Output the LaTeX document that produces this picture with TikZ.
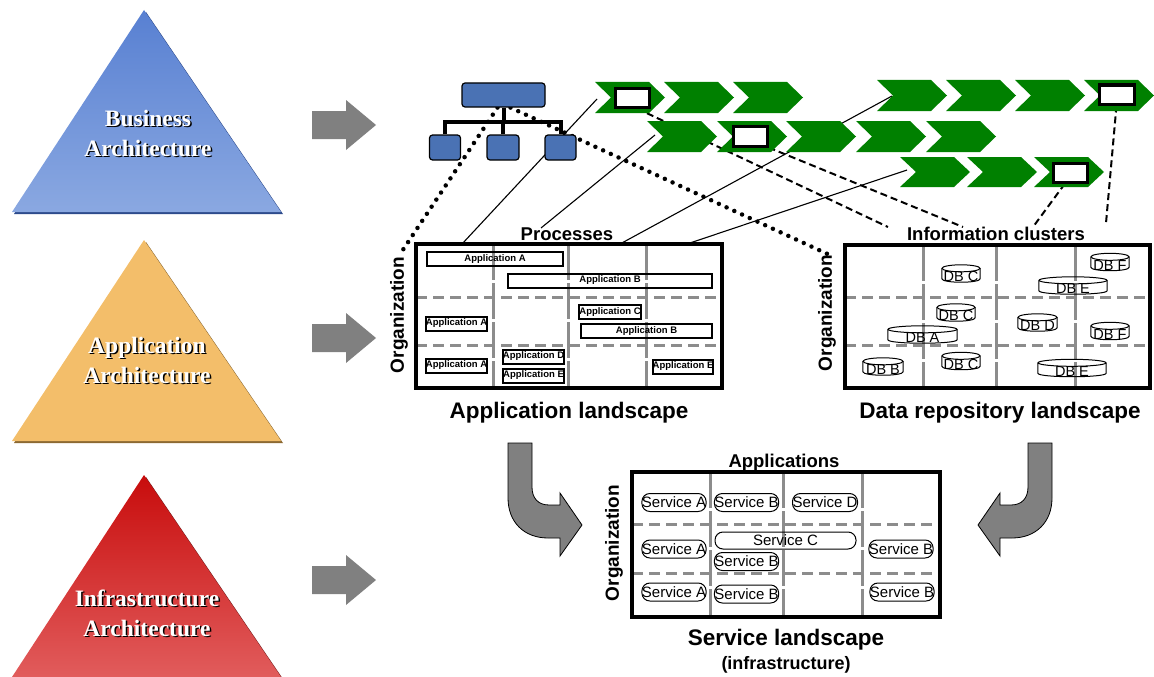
\documentclass[tikz,border=0pt]{standalone}
\usepackage{fontspec}
\setmainfont{Liberation Sans}
\newfontfamily\trifont{Liberation Serif}
\pgfdeclarelayer{bg}
\pgfsetlayers{bg,main}
\definecolor{chgreen}{RGB}{0,128,0}
\definecolor{orgblue}{RGB}{74,114,180}
\definecolor{arrgray}{RGB}{128,128,128}
\definecolor{divgray}{RGB}{140,140,140}
\definecolor{tatop}{RGB}{88,128,210}
\definecolor{tabot}{RGB}{138,168,225}
\definecolor{tashadow}{RGB}{45,75,140}
\definecolor{tbfill}{RGB}{243,190,106}
\definecolor{tbshadow}{RGB}{140,105,50}
\definecolor{tctop}{RGB}{200,12,12}
\definecolor{tcbot}{RGB}{225,92,92}
\definecolor{tcshadow}{RGB}{120,30,30}
\tikzset{
  chev/.style={fill=chgreen},
  boxw/.style={draw, line width=3pt, fill=white, inner sep=0pt},
  orgbox/.style={draw, line width=1.2pt, fill=orgblue, rounded corners=3pt, inner sep=0pt},
  orgline/.style={line width=4pt},
  conn/.style={line width=1.1pt},
  dotline/.style={line width=4.5pt, line cap=round, dash pattern=on 0pt off 8.5pt},
  dashline/.style={line width=2pt, dash pattern=on 7pt off 4pt},
  landbox/.style={draw, line width=3.5pt, inner sep=0pt},
  hdiv/.style={draw=divgray, line width=3pt, dash pattern=on 11pt off 6pt},
  vdiv/.style={draw=divgray, line width=3pt, dash pattern=on 36pt off 3pt},
  appb/.style={draw, line width=2pt, inner sep=0pt, minimum height=14pt, font=\fontsize{9.5}{10}\selectfont\bfseries},
  svc/.style={draw, line width=1pt, rounded corners=8pt, inner sep=0pt, minimum height=18pt, font=\fontsize{15}{15}\selectfont},
  dbnode/.style={inner sep=0pt, minimum height=17pt, font=\fontsize{14.5}{14.5}\selectfont},
  dbline/.style={line width=1pt},
  toplabel/.style={font=\fontsize{18.5}{18.5}\selectfont\bfseries, inner sep=1pt},
  orglabel/.style={font=\fontsize{19}{19}\selectfont\bfseries, rotate=90, inner sep=1pt},
  biglabel/.style={font=\fontsize{22.5}{23}\selectfont\bfseries, inner sep=1pt},
  tritext/.style={font=\trifont\bfseries\fontsize{23.5}{30}\selectfont, align=center, text=white},
  trishadow/.style={font=\trifont\bfseries\fontsize{23.5}{30}\selectfont, align=center, text=black},
  blockarrow/.style={fill=arrgray},
  curvearrow/.style={fill=arrgray, draw=black, line width=0.8pt},
}
\newcommand\dbcyl[5]{%
  \node[dbnode, minimum width=#4pt] (#1) at (#2,#3) {\raisebox{-8pt}[0pt][0pt]{#5}};
  \draw[dbline] ([yshift=-3.5pt]#1.north) ellipse [x radius=#4/2, y radius=3.5];
  \draw[dbline] ([yshift=-3.5pt]#1.north west) -- ([yshift=3.5pt]#1.south west)
     .. controls +(0,-4.7pt) and +(0,-4.7pt) .. ([yshift=3.5pt]#1.south east)
     -- ([yshift=-3.5pt]#1.north east);
}
\begin{document}
\begin{tikzpicture}[x=1pt,y=-1pt]
\useasboundingbox (0,0) rectangle (1154,677);

% ---------- triangles ----------
\fill[tashadow] (146,12) -- (283,214) -- (14,214) -- cycle;
\shade[top color=tatop, bottom color=tabot] (144,10) -- (281,212) -- (12,212) -- cycle;
\fill[tbshadow] (146,242) -- (283,443) -- (14,443) -- cycle;
\fill[tbfill] (144,240) -- (281,441) -- (12,441) -- cycle;
\fill[tcshadow] (146,477) -- (283,679) -- (14,679) -- cycle;
\shade[top color=tctop, bottom color=tcbot] (144,475) -- (281,677) -- (12,677) -- cycle;

\node[trishadow] (t1s) at (149.5,134.5) {Business\\Architecture};
\node[tritext] (t1) at (148,133) {Business\\Architecture};
\node[trishadow] (t2s) at (148.5,361.5) {Application\\Architecture};
\node[tritext] (t2) at (147,360) {Application\\Architecture};
\node[trishadow] (t3s) at (148.5,614.5) {Infrastructure\\Architecture};
\node[tritext] (t3) at (147,613) {Infrastructure\\Architecture};

% ---------- block arrows ----------
\foreach \c in {125,338,580}
  \fill[blockarrow] (312,\c-14) -- (346,\c-14) -- (346,\c-25) -- (376,\c)
     -- (346,\c+25) -- (346,\c+14) -- (312,\c+14) -- cycle;

% ---------- chevrons ----------
\foreach \x in {595,664,733}
  \fill[chev] (\x,82) -- (\x+54,82) -- (\x+70,97.5) -- (\x+54,113) -- (\x,113) -- (\x+16,97.5) -- cycle;
\foreach \x in {877,946,1015,1084}
  \fill[chev] (\x,80) -- (\x+54,80) -- (\x+70,95.5) -- (\x+54,111) -- (\x,111) -- (\x+16,95.5) -- cycle;
\foreach \x in {647,717,786,856,926}
  \fill[chev] (\x,121) -- (\x+54,121) -- (\x+70,136.5) -- (\x+54,152) -- (\x,152) -- (\x+16,136.5) -- cycle;
\foreach \x in {900,967,1034}
  \fill[chev] (\x,157) -- (\x+54,157) -- (\x+70,172) -- (\x+54,187) -- (\x,187) -- (\x+16,172) -- cycle;

\node[boxw, minimum width=34pt, minimum height=19pt] (box1) at (632,97.5) {};
\node[boxw, minimum width=34pt, minimum height=20pt] (box2) at (750,136) {};
\node[boxw, minimum width=34pt, minimum height=19pt] (box3) at (1070,172.5) {};
\node[boxw, minimum width=35pt, minimum height=19pt] (box4) at (1116.5,94.5) {};

% ---------- org chart ----------
\node[orgbox, minimum width=83pt, minimum height=24pt] (boss) at (503.5,95) {};
\node[orgbox, minimum width=31pt, minimum height=25pt] (c1) at (445,147.5) {};
\node[orgbox, minimum width=32pt, minimum height=25pt] (c2) at (503,147.5) {};
\node[orgbox, minimum width=31pt, minimum height=25pt] (c3) at (560.5,147.5) {};
\coordinate (bar) at (504,122);
\draw[orgline] (boss.south) -- (boss.south |- bar);
\draw[orgline] (c1.north) |- (c3.north |- bar) -- (c3.north);
\draw[orgline] (c2.north) -- (c2.north |- bar);

% ---------- application landscape ----------
\draw[vdiv] (493,244) -- (493,388);
\draw[vdiv] (568,244) -- (568,388);
\draw[vdiv] (646,244) -- (646,388);
\draw[hdiv] (416,297) -- (722,297);
\draw[hdiv] (416,345) -- (722,345);
\node[landbox, minimum width=306pt, minimum height=144pt] (appland) at (569,316) {};
\node[toplabel] (proc) at (567,234) {Processes};
\node[orglabel] (orgA) at (399,315) {Organization};
\node[biglabel] (applab) at (569,413) {Application landscape};

\node[appb, minimum width=136pt] (a1) at (495,259) {Application A};
\node[appb, minimum width=204pt] (a2) at (610,280.5) {Application B};
\node[appb, minimum width=59pt] (a3) at (456.5,323.5) {Application A};
\node[appb, minimum width=58pt] (a4) at (610,312) {Application C};
\node[appb, minimum width=131pt] (a5) at (646.5,331) {Application B};
\node[appb, minimum width=59pt] (a6) at (456.5,365.5) {Application A};
\node[appb, minimum width=59pt] (a7) at (533.5,356.5) {Application D};
\node[appb, minimum width=59pt] (a8) at (533.5,375.5) {Application E};
\node[appb, minimum width=58pt] (a9) at (683,366.5) {Application E};

% ---------- data repository landscape ----------
\draw[vdiv] (923,245) -- (923,388);
\draw[vdiv] (996,245) -- (996,388);
\draw[vdiv] (1075,245) -- (1075,388);
\draw[hdiv] (845,297) -- (1150,297);
\draw[hdiv] (845,345) -- (1150,345);
\node[landbox, minimum width=305pt, minimum height=143pt] (dataland) at (997.5,316.5) {};
\node[toplabel] (infocl) at (996,234) {Information clusters};
\node[orglabel] (orgB) at (827,313) {Organization};
\node[biglabel] (datalab) at (1000,413) {Data repository landscape};

\dbcyl{db1}{961}{273.5}{38}{DB C}
\dbcyl{db2}{1110}{262}{38}{DB F}
\dbcyl{db3}{1073}{285.5}{68}{DB E}
\dbcyl{db4}{956}{312.5}{38}{DB C}
\dbcyl{db5}{922.5}{334.5}{69}{DB A}
\dbcyl{db6}{1037.5}{322.5}{39}{DB D}
\dbcyl{db7}{1110}{331}{38}{DB F}
\dbcyl{db8}{883}{366.5}{40}{DB B}
\dbcyl{db9}{961}{361}{38}{DB C}
\dbcyl{db10}{1072}{368}{68}{DB E}

% ---------- service landscape ----------
\draw[vdiv] (710,472) -- (710,617);
\draw[vdiv] (783,472) -- (783,617);
\draw[vdiv] (862,472) -- (862,617);
\draw[hdiv] (632,524) -- (940,524);
\draw[hdiv] (632,573) -- (940,573);
\node[landbox, minimum width=308pt, minimum height=145pt] (svcland) at (786,544.5) {};
\node[toplabel] (appslab) at (784,463) {Applications};
\node[orglabel] (orgC) at (614,543) {Organization};
\node[biglabel] (svclab) at (786,640) {Service landscape};
\node[font=\fontsize{18}{18}\selectfont\bfseries, inner sep=1pt] (infralab) at (786,665) {(infrastructure)};

\node[svc, minimum width=64pt] (s1) at (674,502.5) {Service A};
\node[svc, minimum width=63pt] (s2) at (746.5,502.5) {Service B};
\node[svc, minimum width=64pt] (s3) at (825,502.5) {Service D};
\node[svc, minimum width=64pt] (s4) at (674,549) {Service A};
\node[svc, minimum width=141pt, minimum height=17pt] (s5) at (785.5,540.5) {Service C};
\node[svc, minimum width=63pt] (s6) at (746.5,561.5) {Service B};
\node[svc, minimum width=64pt] (s7) at (901,549) {Service B};
\node[svc, minimum width=64pt] (s8) at (674,592) {Service A};
\node[svc, minimum width=63pt] (s9) at (746.5,594) {Service B};
\node[svc, minimum width=62pt] (s10) at (902,592) {Service B};

% ---------- curved arrows ----------
\filldraw[curvearrow] (508,443) -- (532,443) -- (532,487)
  .. controls (532,498) and (538,505) .. (549,505) -- (560,505) -- (560,493)
  -- (582,525) -- (560,556) -- (560,538) -- (548,538)
  .. controls (524,538) and (508,522) .. (508,498) -- cycle;
\filldraw[curvearrow] (1052,443) -- (1028,443) -- (1028,487)
  .. controls (1028,498) and (1022,505) .. (1011,505) -- (1000,505) -- (1000,493)
  -- (978,525) -- (1000,556) -- (1000,538) -- (1012,538)
  .. controls (1036,538) and (1052,522) .. (1052,498) -- cycle;

% ---------- connectors (behind) ----------
\coordinate (p1a) at (597,99);  \coordinate (p1b) at (462,244);
\coordinate (p2a) at (655,135); \coordinate (p2b) at (541,228);
\coordinate (p3a) at (892,96);  \coordinate (p3b) at (620,244);
\coordinate (p4a) at (907,170); \coordinate (p4b) at (687,244);
\coordinate (d1) at (888,227);
\coordinate (d2) at (963,227);
\coordinate (d3) at (1033,227);
\coordinate (d4) at (1106,223);
\begin{pgfonlayer}{bg}
  \draw[conn] (p1a) -- (p1b);
  \draw[conn] (p2a) -- (p2b);
  \draw[conn] (p3a) -- (p3b);
  \draw[conn] (p4a) -- (p4b);
  \draw[dotline] ([xshift=-6pt]boss.south) -- (orgA.east);
  \draw[dotline] ([xshift=7pt]boss.south) -- (orgB.east);
  \draw[dashline] ([xshift=5pt]box1.south) -- (d1);
  \draw[dashline] (box2.south east) -- (d2);
  \draw[dashline] ([xshift=-5pt]box3.south) -- (d3);
  \draw[dashline] (box4.south) -- (d4);
\end{pgfonlayer}
\end{tikzpicture}
\end{document}
